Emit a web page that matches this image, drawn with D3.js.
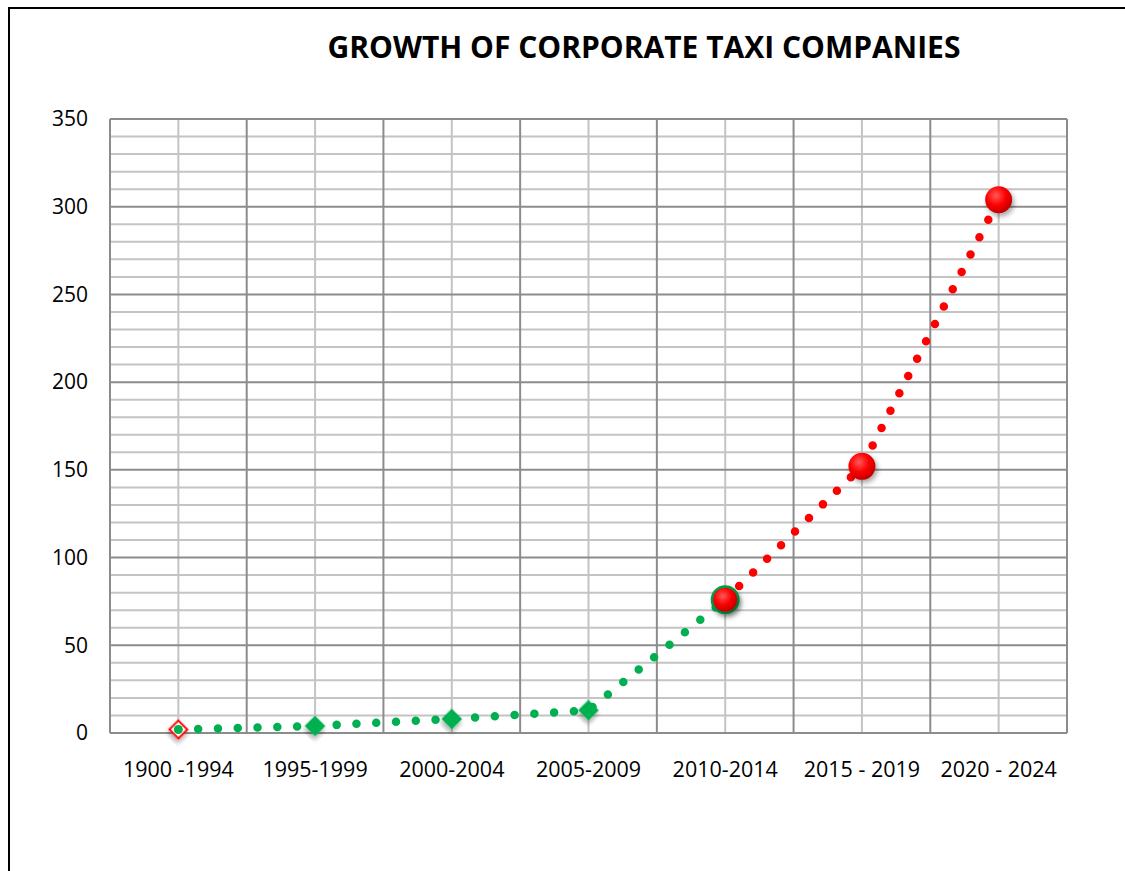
<!DOCTYPE html>
<html>
<head>
<meta charset="utf-8">
<script src="https://cdn.jsdelivr.net/npm/d3@7"></script>
<style>
  body { margin: 0; background: #fff; }
  text { font-family: "Open Sans", "Liberation Sans", sans-serif; }
</style>
</head>
<body>
<div id="chart"></div>
<script>
// chart data
var periods = ["1900 -1994", "1995-1999", "2000-2004", "2005-2009", "2010-2014", "2015 - 2019", "2020 - 2024"];
var earlyGrowth = [2, 4, 8, 13, 76, null, null];
var recentGrowth = [null, null, null, null, 76, 152, 304];
var yTicks = [0, 50, 100, 150, 200, 250, 300, 350];

var W = 1125, H = 871;
var margin = {top: 119, right: 58, bottom: 138, left: 110};
var width = W - margin.left - margin.right,
    height = H - margin.top - margin.bottom;

var svg = d3.select("#chart").append("svg")
  .attr("width", W).attr("height", H);

var defs = svg.append("defs");
var grad = defs.append("radialGradient").attr("id", "ball")
  .attr("cx", "40%").attr("cy", "35%").attr("r", "65%");
grad.append("stop").attr("offset", "0%").attr("stop-color", "#ff5a5a");
grad.append("stop").attr("offset", "55%").attr("stop-color", "#ff0000");
grad.append("stop").attr("offset", "100%").attr("stop-color", "#c00000");
var shadow = defs.append("filter").attr("id", "shadow")
  .attr("x", "-50%").attr("y", "-50%").attr("width", "200%").attr("height", "200%");
shadow.append("feDropShadow").attr("dx", 2).attr("dy", 3).attr("stdDeviation", 2.5)
  .attr("flood-color", "#000").attr("flood-opacity", 0.35);

// outer chart border (only top and left are in view)
svg.append("rect")
  .attr("x", 9).attr("y", 8).attr("width", W + 20).attr("height", H + 20)
  .attr("fill", "none").attr("stroke", "#000").attr("stroke-width", 2);

svg.append("text")
  .attr("x", 644).attr("y", 58)
  .attr("text-anchor", "middle")
  .style("font-size", "30px").style("font-weight", "bold")
  .text("GROWTH OF CORPORATE TAXI COMPANIES");

var g = svg.append("g")
  .attr("transform", "translate(" + margin.left + "," + margin.top + ")");

var xBand = d3.scaleBand().domain(periods).range([0, width]).padding(0);
var bw = xBand.bandwidth();
var x = function(p) { return xBand(p) + bw / 2; };

var y = d3.scaleLinear().domain([0, 350]).range([height, 0]);

// minor horizontal grid
g.selectAll(".hminor")
  .data(d3.range(0, 351, 10).filter(function(v) { return v % 50 != 0; }))
  .enter().append("line")
  .attr("x1", 0).attr("x2", width)
  .attr("y1", function(d) { return y(d); }).attr("y2", function(d) { return y(d); })
  .attr("stroke", "#c4c4c4").attr("stroke-width", 2);

// minor vertical grid at category centres
g.selectAll(".vminor")
  .data(periods)
  .enter().append("line")
  .attr("x1", x).attr("x2", x)
  .attr("y1", 0).attr("y2", height)
  .attr("stroke", "#c4c4c4").attr("stroke-width", 2);

// major horizontal grid
g.selectAll(".hmajor")
  .data(yTicks)
  .enter().append("line")
  .attr("x1", 0).attr("x2", width)
  .attr("y1", function(d) { return y(d); }).attr("y2", function(d) { return y(d); })
  .attr("stroke", "#8c8c8c").attr("stroke-width", 2);

// major vertical grid at band edges
var edges = periods.map(function(p) { return xBand(p); }).concat([width]);
g.selectAll(".vmajor")
  .data(edges)
  .enter().append("line")
  .attr("x1", function(d) { return d; }).attr("x2", function(d) { return d; })
  .attr("y1", 0).attr("y2", height)
  .attr("stroke", "#8c8c8c").attr("stroke-width", 2);

// y axis labels
var yAxis = d3.axisLeft(y).tickValues(yTicks).tickSize(0).tickPadding(22);
g.append("g").call(yAxis)
  .call(function(a) { a.select(".domain").remove(); })
  .selectAll("text")
  .style("font-size", "21px").attr("fill", "#000")
  .style("font-family", "'Open Sans', 'Liberation Sans', sans-serif");

// x axis labels
var xAxis = d3.axisBottom(xBand).tickSize(0).tickPadding(29);
g.append("g").attr("transform", "translate(0," + height + ")").call(xAxis)
  .call(function(a) { a.select(".domain").remove(); })
  .selectAll("text")
  .style("font-size", "21.5px").attr("fill", "#000")
  .style("font-family", "'Open Sans', 'Liberation Sans', sans-serif");

function seriesPoints(vals) {
  var pts = [];
  vals.forEach(function(v, i) { if (v != null) pts.push({p: periods[i], v: v}); });
  return pts;
}
var greenPts = seriesPoints(earlyGrowth);
var redPts = seriesPoints(recentGrowth);

var line = d3.line()
  .x(function(d) { return x(d.p); })
  .y(function(d) { return y(d.v); });

// dotted lines
g.append("path").datum(greenPts)
  .attr("fill", "none").attr("stroke", "#00b050")
  .attr("stroke-width", 8.5).attr("stroke-linecap", "round")
  .attr("stroke-dasharray", "0 19.8")
  .attr("d", line);

g.append("path").datum(redPts)
  .attr("fill", "none").attr("stroke", "#ff0000")
  .attr("stroke-width", 8.5).attr("stroke-linecap", "round")
  .attr("stroke-dasharray", "0 19.5")
  .attr("d", line);

// green diamond markers (first point has a red outline)
g.selectAll(".gmark")
  .data(greenPts.slice(0, 4))
  .enter().append("path")
  .attr("transform", function(d) { return "translate(" + x(d.p) + "," + y(d.v) + ") rotate(45)"; })
  .attr("d", d3.symbol().type(d3.symbolSquare).size(160))
  .attr("fill", function(d, i) { return i == 0 ? "#fff" : "#00b050"; })
  .attr("stroke", function(d, i) { return i == 0 ? "#ff0000" : "#00b050"; })
  .attr("stroke-width", 2)
  .attr("filter", "url(#shadow)");
g.append("circle")
  .attr("cx", x(greenPts[0].p)).attr("cy", y(greenPts[0].v))
  .attr("r", 4.5).attr("fill", "#00b050");

// green ring behind the shared 2010-2014 point
g.append("circle")
  .attr("cx", x(greenPts[4].p)).attr("cy", y(greenPts[4].v))
  .attr("r", 14.5).attr("fill", "#00a04a")
  .attr("filter", "url(#shadow)");

// red ball markers
g.selectAll(".rmark")
  .data(redPts)
  .enter().append("circle")
  .attr("cx", function(d) { return x(d.p); })
  .attr("cy", function(d) { return y(d.v); })
  .attr("r", function(d, i) { return i == 0 ? 12 : 13.5; })
  .attr("fill", "url(#ball)")
  .attr("filter", "url(#shadow)");
</script>
</body>
</html>
